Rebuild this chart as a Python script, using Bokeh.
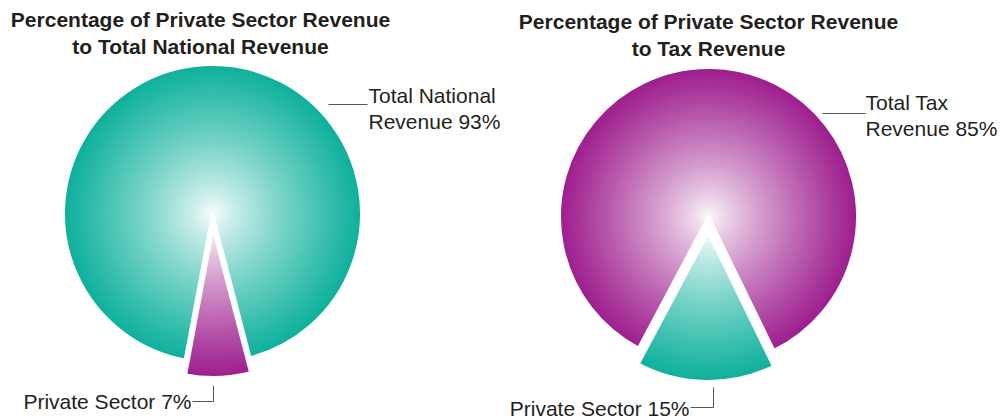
import numpy as np
from bokeh.plotting import figure
from bokeh.models import Range1d, ColumnDataSource
from bokeh.core.properties import value
from bokeh.embed import file_html
from bokeh.resources import INLINE

# ---- data ----
left_title = ["Percentage of Private Sector Revenue", "to Total National Revenue"]
left_labels = ["Total National\nRevenue", "Private Sector"]
left_values = [93, 7]

right_title = ["Percentage of Private Sector Revenue", "to Tax Revenue"]
right_labels = ["Total Tax\nRevenue", "Private Sector"]
right_values = [85, 15]

TEAL = (14, 176, 156)
MAGENTA = (158, 30, 142)
FONT = "Liberation Sans"
TXT = "#231f20"
LEAD = "#555555"

W, H = 1001, 419
p = figure(width=W, height=H, output_backend="svg", toolbar_location=None,
           x_range=Range1d(0, W), y_range=Range1d(0, H),
           min_border=0)
p.axis.visible = False
p.grid.visible = False
p.outline_line_color = None
p.background_fill_color = "white"


def Y(ys):
    return H - ys


def mix(c, f):
    r = [int(round(255 + (ci - 255) * f)) for ci in c]
    return "#%02x%02x%02x" % tuple(r)


def pie(cx, cy, R, values, colors, small_center_deg, offset):
    total = float(sum(values))
    span = values[1] / total * 2 * np.pi
    mid = np.deg2rad(small_center_deg)
    s_start, s_end = mid - span / 2, mid + span / 2
    slices = [
        (cx, cy, s_end, s_start + 2 * np.pi, colors[0]),
        (cx + offset * np.cos(mid), cy + offset * np.sin(mid), s_start, s_end, colors[1]),
    ]
    N = 70
    xs, ys, rs, a0, a1, cols = [], [], [], [], [], []
    for (x, y, st, en, col) in slices:
        for k in range(N, 0, -1):
            t = k / N
            f = min(1.0, t ** 0.8)
            xs.append(x); ys.append(y); rs.append(R * t)
            a0.append(st); a1.append(en)
            cols.append(mix(col, f))
    src = ColumnDataSource(dict(x=xs, y=ys, r=rs, a0=a0, a1=a1, c=cols))
    p.wedge(x="x", y="y", radius="r", start_angle="a0", end_angle="a1",
            fill_color="c", line_color=None, source=src)
    osrc = ColumnDataSource(dict(x=[s[0] for s in slices], y=[s[1] for s in slices],
                                 a0=[s[2] for s in slices], a1=[s[3] for s in slices]))
    p.wedge(x="x", y="y", radius=R, start_angle="a0", end_angle="a1",
            fill_color=None, line_color="white", line_width=3, source=osrc)


pie(212, Y(213), 149, left_values, [TEAL, MAGENTA], -88, 15)
pie(708, Y(216), 149, right_values, [MAGENTA, TEAL], -91, 16)


def txt(x, y, s, size="21px", style="normal", align="left"):
    p.text(x=[x], y=[Y(y)], text=[s], text_font=value(FONT), text_font_size=size,
           text_font_style=style, text_color=TXT, text_align=align,
           text_baseline="middle")


# titles
txt(200, 19, left_title[0], "21px", "bold", "center")
txt(200, 46, left_title[1], "21px", "bold", "center")
txt(708, 21, right_title[0], "21px", "bold", "center")
txt(708, 48, right_title[1], "21px", "bold", "center")

# labels
l0 = left_labels[0].split("\n")
txt(368, 95, l0[0])
txt(368, 121, "%s %d%%" % (l0[1], left_values[0]))
r0 = right_labels[0].split("\n")
txt(865, 102, r0[0])
txt(865, 128, "%s %d%%" % (r0[1], right_values[0]))
txt(191, 401, "%s %d%%" % (left_labels[1], left_values[1]), align="right")
txt(689, 408, "%s %d%%" % (right_labels[1], right_values[1]), align="right")

# leader lines
p.line([328, 367], [Y(104), Y(104)], line_color=LEAD, line_width=1)
p.line([822, 865], [Y(113), Y(113)], line_color=LEAD, line_width=1)
p.line([192, 213, 213], [Y(401), Y(401), Y(385)], line_color=LEAD, line_width=1)
p.line([690, 713, 713], [Y(407), Y(407), Y(387)], line_color=LEAD, line_width=1)

open("out.html", "w").write(file_html(p, INLINE))
